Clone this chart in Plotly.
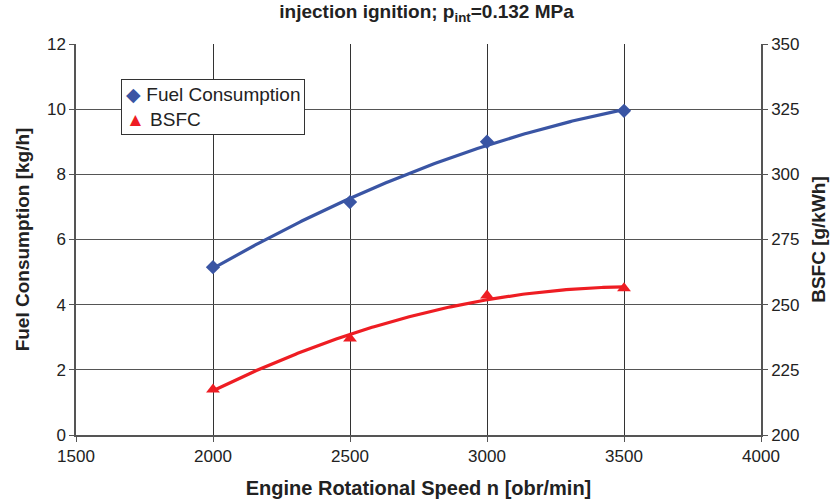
import numpy as np
import plotly.graph_objects as go

speed = [2000, 2500, 3000, 3500]
fuel = [5.15, 7.15, 9.0, 9.95]
bsfc = [217.5, 237.0, 253.5, 256.3]

x_ticks = [1500, 2000, 2500, 3000, 3500, 4000]
y1_ticks = [0, 2, 4, 6, 8, 10, 12]
y2_ticks = [200, 225, 250, 275, 300, 325, 350]

series_names = ["Fuel Consumption", "BSFC"]

BLUE = "#3A55A4"
RED = "#EE1D23"
FONT = "Liberation Sans, Arial, sans-serif"

# quadratic trendlines fitted to the measured points (as in the original spreadsheet)
xs = np.linspace(min(speed), max(speed), 200)
fuel_fit = np.polyval(np.polyfit(speed, fuel, 2), xs)
bsfc_fit = np.polyval(np.polyfit(speed, bsfc, 2), xs)

fig = go.Figure()
fig.add_trace(go.Scatter(x=xs, y=fuel_fit, mode="lines", line=dict(color=BLUE, width=3.2),
                         showlegend=False, hoverinfo="skip"))
fig.add_trace(go.Scatter(x=xs, y=bsfc_fit, mode="lines", line=dict(color=RED, width=3.2),
                         showlegend=False, hoverinfo="skip", yaxis="y2"))
fig.add_trace(go.Scatter(x=speed, y=fuel, mode="markers", name=series_names[0],
                         showlegend=False,
                         marker=dict(symbol="diamond", size=11, color=BLUE)))
fig.add_trace(go.Scatter(x=speed, y=bsfc, mode="markers", name=series_names[1], yaxis="y2",
                         showlegend=False,
                         marker=dict(symbol="triangle-up", size=12, color=RED)))

axis_common = dict(showline=True, linecolor="#555", linewidth=1.5, ticks="outside",
                   ticklen=5, tickcolor="#555", tickfont=dict(size=17, color="#222"),
                   zeroline=False, automargin=False)

legend_text = (f'<span style="color:{BLUE}">◆</span> {series_names[0]}<br>'
               f'<span style="color:{RED}">▲</span> {series_names[1]}')

fig.update_layout(
    width=833, height=501,
    margin=dict(l=76, r=72, t=44, b=66),
    paper_bgcolor="white", plot_bgcolor="white",
    font=dict(family=FONT, color="#222"),
    showlegend=False,
    title=dict(text="<b>injection ignition; p<sub>int</sub>=0.132 MPa</b>",
               x=0.512, xanchor="center", y=0.99, yanchor="top",
               font=dict(size=19, family=FONT, color="#222")),
    xaxis=dict(range=[1500, 4000], tickvals=x_ticks, showgrid=True, gridcolor="#333",
               gridwidth=1, title=dict(text="<b>Engine Rotational Speed n [obr/min]</b>",
                                       font=dict(size=20), standoff=16),
               **axis_common),
    yaxis=dict(range=[0, 12], tickvals=y1_ticks, showgrid=True, gridcolor="#555",
               gridwidth=1, title=dict(text="<b>Fuel Consumption [kg/h]</b>",
                                       font=dict(size=19), standoff=12),
               **axis_common),
    yaxis2=dict(range=[200, 350], tickvals=y2_ticks, overlaying="y", side="right",
                showgrid=False, title=dict(text="<b>BSFC [g/kWh]</b>",
                                           font=dict(size=19), standoff=13),
                **axis_common),
    annotations=[dict(text=legend_text, xref="paper", yref="paper",
                      x=0.066, y=0.91, xanchor="left", yanchor="top", align="left",
                      showarrow=False, bgcolor="white", bordercolor="#333", borderwidth=1,
                      borderpad=4, font=dict(size=19, color="#222"))],
)

fig.write_html("out.html")
